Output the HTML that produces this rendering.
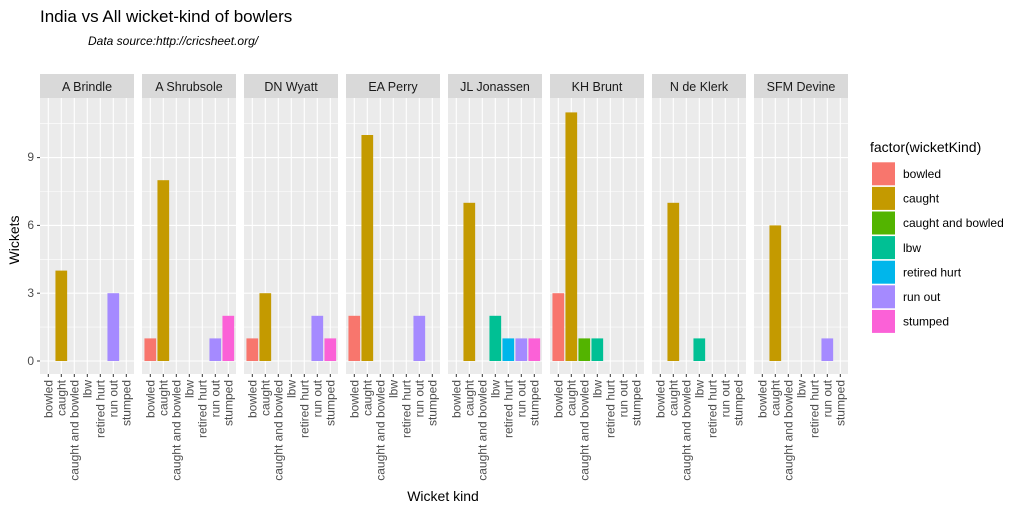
<!DOCTYPE html>
<html><head><meta charset="utf-8"><style>
body{margin:0;background:#fff}
svg{display:block;font-family:"Liberation Sans",Arial,sans-serif}
</style></head><body>
<svg id="s" width="1024" height="512" xmlns="http://www.w3.org/2000/svg">
<text x="40" y="22" font-size="17" fill="#000">India vs All wicket-kind of bowlers</text>
<text x="88" y="45" font-size="12" font-style="italic" fill="#000">Data source:http://cricsheet.org/</text>
<text x="443" y="501" font-size="14" text-anchor="middle" fill="#000">Wicket kind</text>
<text transform="translate(19,240) rotate(-90)" font-size="14" text-anchor="middle" fill="#000">Wickets</text>
<g font-size="12" fill="#4d4d4d" text-anchor="end">
<text x="34" y="365">0</text><text x="34" y="297">3</text><text x="34" y="229">6</text><text x="34" y="161">9</text>
</g>
<g stroke="#333" stroke-width="1">
<line x1="37" x2="40" y1="361" y2="361"/><line x1="37" x2="40" y1="293.2" y2="293.2"/><line x1="37" x2="40" y1="225.4" y2="225.4"/><line x1="37" x2="40" y1="157.6" y2="157.6"/>
</g>
<text x="870" y="152" font-size="14" fill="#000">factor(wicketKind)</text>
</svg>
<script>
var s=document.getElementById('s'),NS='http://www.w3.org/2000/svg';
function el(t,a,txt){var e=document.createElementNS(NS,t);for(var k in a)e.setAttribute(k,a[k]);if(txt)e.textContent=txt;s.appendChild(e);return e;}
var cats=['bowled','caught','caught and bowled','lbw','retired hurt','run out','stumped'];
var cols=['#F8766D','#C49A00','#53B400','#00C094','#00B6EB','#A58AFF','#FB61D7'];
var names=['A Brindle','A Shrubsole','DN Wyatt','EA Perry','JL Jonassen','KH Brunt','N de Klerk','SFM Devine'];
var data=[[0,4,0,0,0,3,0],[1,8,0,0,0,1,2],[1,3,0,0,0,2,1],[2,10,0,0,0,2,0],[0,7,0,2,1,1,1],[3,11,1,1,0,0,0],[0,7,0,1,0,0,0],[0,6,0,0,0,1,0]];
function Y(v){return 361-22.6*v;}
for(var p=0;p<8;p++){
 var x0=40+p*102;
 el('rect',{x:x0,y:74,width:94,height:24,fill:'#d9d9d9'});
 el('text',{x:x0+47,y:91,'font-size':12.5,'text-anchor':'middle',fill:'#1a1a1a'},names[p]);
 el('rect',{x:x0,y:98,width:94,height:276,fill:'#ebebeb'});
 [1.5,4.5,7.5,10.5].forEach(function(v){el('line',{x1:x0,x2:x0+94,y1:Y(v),y2:Y(v),stroke:'#fff','stroke-width':0.6});});
 [0,3,6,9].forEach(function(v){el('line',{x1:x0,x2:x0+94,y1:Y(v),y2:Y(v),stroke:'#fff','stroke-width':1.1});});
 for(var c=0;c<7;c++){
  var cx=x0+8.3+13*c;
  el('line',{x1:cx,x2:cx,y1:98,y2:374,stroke:'#fff','stroke-width':1.1});
  el('line',{x1:cx,x2:cx,y1:374,y2:377,stroke:'#333','stroke-width':1});
  el('text',{transform:'translate('+(cx+4.3)+',380) rotate(-90)','font-size':12,'text-anchor':'end',fill:'#4d4d4d'},cats[c]);
 }
 for(var c=0;c<7;c++){var v=data[p][c];if(v>0){var cx=x0+8.3+13*c;
  el('rect',{x:cx-5.85,y:Y(v),width:11.7,height:361-Y(v),fill:cols[c]});}}
}
for(var i=0;i<7;i++){
 el('rect',{x:872,y:162.3+24.6*i,width:23,height:23,fill:cols[i]});
 el('text',{x:903,y:178+24.6*i,'font-size':12,fill:'#000'},cats[i]);
}
</script>
</body></html>
